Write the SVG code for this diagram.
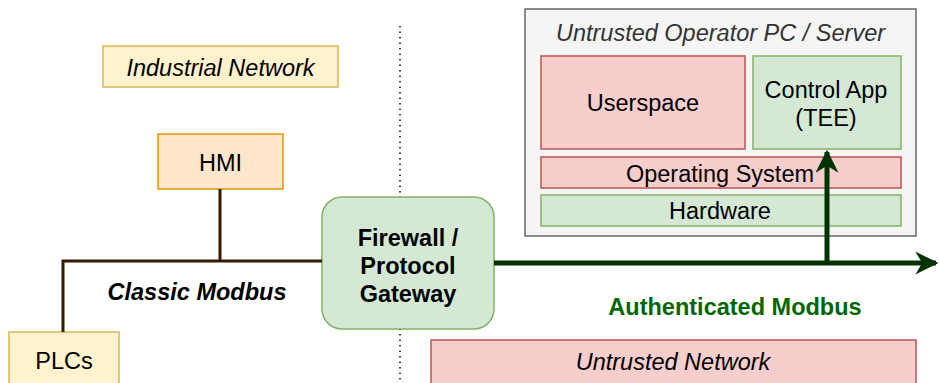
<svg xmlns="http://www.w3.org/2000/svg" width="939" height="383" viewBox="0 0 939 383">
  <defs>
    <marker id="arrowGreen" viewBox="0 0 10 10" refX="9" refY="5" markerWidth="4.6" markerHeight="4.6" orient="auto" markerUnits="strokeWidth">
      <path d="M0,0 L10,5 L0,10 L3,5 Z" fill="#003300"/>
    </marker>
  </defs>
  <style>
    text { font-family: "Liberation Sans", Arial, Helvetica, sans-serif; font-size: 23.5px; fill: #000; text-anchor: middle; }
    .yellow { fill: #fff2cc; stroke: #d6b656; stroke-width: 1.5; }
    .orange { fill: #ffe6cc; stroke: #d79b00; stroke-width: 1.5; }
    .green { fill: #d5e8d4; stroke: #82b366; stroke-width: 1.5; }
    .red { fill: #f8cecc; stroke: #b85450; stroke-width: 1.5; }
    .grey { fill: #f5f5f5; stroke: #666666; stroke-width: 1.5; }
    .it { font-style: italic; }
    .bold { font-weight: bold; }
    .wire { fill: none; stroke: #331a00; stroke-width: 3; }
    .secure { fill: none; stroke: #003300; stroke-width: 5; }
  </style>

  <!-- zone separator -->
  <line x1="400" y1="26" x2="400" y2="383" stroke="#000" stroke-width="1.5" stroke-dasharray="1.5 4"/>

  <g id="industrial-network">
    <rect class="yellow" x="103" y="46" width="235" height="41"/>
    <text class="it" x="220.5" y="75.5">Industrial Network</text>
  </g>

  <g id="hmi">
    <rect class="orange" x="158" y="134" width="125" height="55"/>
    <text x="220.5" y="170.5">HMI</text>
  </g>

  <g id="plcs">
    <rect class="yellow" x="9" y="332" width="110" height="60"/>
    <text x="64" y="368.5">PLCs</text>
  </g>

  <text class="it bold" x="197" y="300">Classic Modbus</text>

  <g id="firewall">
    <rect class="green" x="322" y="197" width="172" height="132" rx="20" ry="20"/>
    <text class="bold" x="408" y="245.5">Firewall /</text>
    <text class="bold" x="408" y="273.5">Protocol</text>
    <text class="bold" x="408" y="301.5">Gateway</text>
  </g>

  <g id="operator-pc">
    <rect class="grey" x="525" y="9" width="391" height="227"/>
    <text class="it" x="720.5" y="41" style="fill:#333333">Untrusted Operator PC / Server</text>
  </g>

  <g id="userspace">
    <rect class="red" x="541" y="56" width="204" height="93"/>
    <text x="643" y="111">Userspace</text>
  </g>

  <g id="control-app">
    <rect class="green" x="753" y="56" width="148" height="93"/>
    <text x="826" y="97.5">Control App</text>
    <text x="826" y="126">(TEE)</text>
  </g>

  <g id="operating-system">
    <rect class="red" x="541" y="157" width="360" height="31"/>
    <text x="720" y="182">Operating System</text>
  </g>

  <g id="hardware">
    <rect class="green" x="541" y="195" width="360" height="31"/>
    <text x="720" y="219">Hardware</text>
  </g>

  <text class="bold" x="735" y="315" style="fill:#006600">Authenticated Modbus</text>

  <g id="untrusted-network">
    <rect class="red" x="431" y="340" width="485" height="60"/>
    <text class="it" x="673" y="370">Untrusted Network</text>
  </g>

  <g id="connectors">
    <path class="wire" d="M220,189 V261"/>
    <path class="wire" d="M322,261 H63 V332"/>
    <path class="secure" d="M494,263 H936" marker-end="url(#arrowGreen)"/>
    <path class="secure" d="M827,263 V152" marker-end="url(#arrowGreen)"/>
  </g>
</svg>
